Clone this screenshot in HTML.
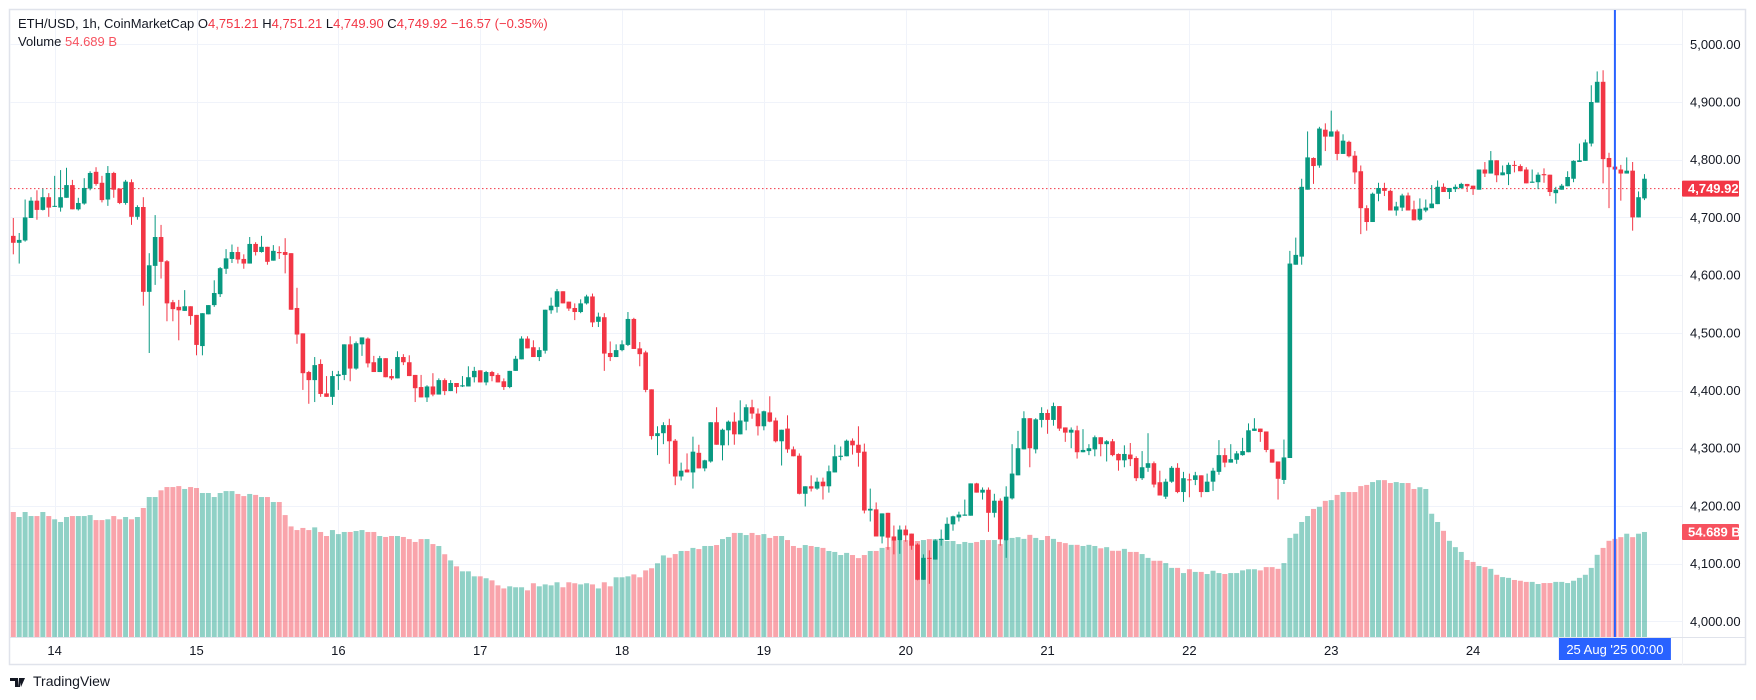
<!DOCTYPE html>
<html><head><meta charset="utf-8"><style>
html,body{margin:0;padding:0;background:#fff;width:1756px;height:700px;overflow:hidden;font-family:"Liberation Sans",sans-serif;}
#wrap{position:relative;width:1756px;height:700px;}
svg{position:absolute;left:0;top:0;}
</style></head><body>
<div id="wrap">
<svg id="chart" width="1756" height="700"></svg>
</div>
<script>
const openP=[4668,4656,4660,4699,4729,4713,4735,4719,4717,4734,4756,4714,4724,4750,4779,4760,4731,4777,4750,4725,4761,4701,4718,4571,4616,4666,4624,4553,4545,4538,4546,4531,4477,4532,4548,4567,4611,4628,4640,4628,4620,4654,4640,4649,4625,4640,4640,4638,4543,4499,4432,4418,4446,4395,4389,4425,4427,4480,4438,4480,4490,4449,4432,4456,4425,4421,4458,4449,4427,4406,4388,4407,4393,4418,4399,4413,4407,4407,4423,4435,4414,4432,4427,4416,4406,4434,4454,4490,4475,4458,4469,4539,4545,4572,4554,4543,4536,4551,4563,4519,4527,4465,4458,4470,4479,4524,4473,4466,4402,4321,4326,4340,4313,4251,4263,4258,4292,4265,4277,4345,4305,4331,4346,4324,4346,4371,4360,4338,4362,4348,4312,4334,4298,4287,4221,4234,4230,4242,4234,4258,4285,4286,4313,4306,4294,4192,4194,4147,4188,4147,4140,4159,4152,4133,4072,4110,4107,4141,4141,4168,4180,4183,4183,4239,4223,4228,4188,4209,4140,4213,4253,4298,4352,4298,4349,4361,4349,4373,4336,4327,4331,4293,4295,4298,4319,4307,4312,4290,4279,4289,4283,4248,4266,4274,4241,4216,4242,4266,4224,4246,4245,4253,4224,4242,4259,4288,4275,4280,4288,4293,4330,4334,4329,4298,4277,4245,4283,4618,4632,4748,4803,4790,4852,4840,4849,4810,4831,4807,4780,4716,4692,4741,4751,4746,4712,4717,4738,4714,4696,4712,4716,4723,4753,4744,4749,4751,4758,4755,4748,4783,4776,4799,4773,4775,4791,4789,4783,4760,4761,4775,4774,4742,4748,4754,4767,4796,4798,4828,4899,4935,4803,4788,4783,4776,4781,4700,4733];
const highP=[4699,4673,4731,4735,4747,4750,4742,4772,4782,4786,4765,4734,4768,4780,4787,4772,4789,4779,4750,4765,4766,4721,4735,4638,4704,4687,4626,4557,4557,4574,4546,4531,4534,4548,4591,4614,4645,4653,4649,4636,4666,4657,4668,4649,4652,4650,4664,4638,4578,4499,4434,4458,4454,4425,4434,4434,4480,4494,4485,4492,4492,4460,4460,4456,4437,4468,4463,4461,4427,4427,4409,4430,4421,4421,4418,4413,4425,4442,4441,4435,4434,4434,4430,4421,4434,4460,4494,4494,4487,4475,4540,4561,4576,4572,4554,4551,4558,4566,4568,4535,4534,4485,4480,4487,4536,4526,4484,4469,4402,4338,4345,4351,4316,4275,4291,4320,4306,4280,4345,4371,4334,4348,4362,4383,4376,4384,4369,4365,4390,4353,4332,4357,4303,4291,4234,4253,4249,4249,4270,4306,4303,4315,4317,4338,4308,4230,4206,4187,4188,4166,4166,4166,4152,4135,4116,4123,4142,4159,4180,4183,4190,4211,4239,4240,4232,4232,4221,4213,4234,4307,4330,4364,4352,4352,4371,4367,4379,4373,4336,4336,4339,4333,4307,4322,4319,4314,4316,4291,4305,4309,4286,4295,4326,4277,4261,4247,4269,4274,4259,4256,4259,4253,4256,4266,4314,4300,4307,4295,4318,4343,4352,4334,4329,4298,4277,4315,4642,4665,4767,4849,4804,4857,4863,4885,4852,4844,4833,4815,4790,4721,4743,4760,4760,4748,4727,4741,4743,4729,4733,4731,4756,4764,4759,4751,4757,4760,4758,4755,4783,4796,4815,4799,4790,4795,4798,4792,4787,4783,4778,4785,4774,4753,4758,4780,4799,4828,4835,4929,4953,4955,4812,4823,4791,4804,4796,4745,4775];
const lowP=[4636,4620,4658,4699,4696,4712,4701,4718,4710,4734,4714,4712,4722,4747,4755,4726,4720,4734,4723,4722,4687,4696,4547,4465,4583,4594,4520,4520,4487,4538,4514,4461,4461,4532,4545,4562,4602,4621,4620,4611,4620,4634,4639,4618,4625,4628,4603,4540,4481,4401,4377,4380,4389,4389,4375,4401,4418,4416,4436,4460,4440,4432,4432,4423,4418,4421,4444,4425,4380,4388,4380,4390,4393,4392,4399,4395,4406,4407,4414,4414,4409,4416,4414,4401,4404,4434,4454,4473,4458,4451,4464,4533,4535,4551,4538,4522,4534,4549,4510,4510,4434,4451,4458,4468,4477,4472,4442,4397,4315,4288,4307,4273,4236,4244,4258,4230,4265,4260,4275,4306,4279,4305,4306,4324,4331,4351,4322,4331,4345,4310,4270,4292,4286,4220,4199,4225,4228,4211,4223,4258,4279,4286,4289,4268,4187,4173,4147,4135,4124,4116,4117,4138,4124,4071,4072,4065,4107,4131,4141,4157,4173,4183,4183,4223,4211,4155,4180,4131,4110,4211,4253,4298,4267,4291,4336,4325,4339,4330,4311,4300,4282,4293,4288,4286,4286,4277,4286,4261,4267,4269,4243,4245,4259,4232,4218,4212,4240,4222,4207,4215,4236,4215,4224,4226,4254,4267,4275,4273,4287,4293,4330,4311,4293,4275,4211,4238,4283,4618,4618,4748,4758,4786,4815,4840,4799,4810,4804,4758,4671,4677,4692,4728,4737,4712,4703,4711,4712,4695,4694,4709,4716,4723,4744,4732,4744,4749,4744,4739,4748,4770,4776,4761,4773,4756,4778,4780,4759,4760,4749,4760,4737,4724,4748,4754,4761,4796,4798,4823,4899,4759,4716,4753,4729,4776,4677,4700,4730];
const closeP=[4656,4661,4700,4729,4713,4735,4717,4720,4735,4756,4714,4725,4751,4777,4758,4730,4777,4748,4725,4762,4701,4718,4571,4617,4666,4623,4551,4541,4539,4546,4529,4479,4534,4548,4569,4612,4629,4640,4627,4620,4654,4640,4649,4623,4642,4638,4635,4540,4497,4430,4418,4444,4394,4389,4425,4428,4480,4438,4482,4492,4447,4432,4456,4423,4421,4458,4449,4425,4404,4388,4407,4393,4418,4399,4413,4406,4409,4423,4434,4414,4432,4425,4414,4406,4434,4455,4490,4473,4458,4470,4540,4547,4572,4551,4542,4536,4551,4563,4518,4528,4464,4458,4470,4480,4524,4472,4463,4401,4321,4326,4340,4312,4251,4261,4258,4294,4265,4279,4345,4306,4332,4346,4324,4348,4371,4360,4338,4364,4346,4312,4332,4298,4286,4221,4234,4230,4242,4234,4260,4286,4287,4313,4305,4292,4192,4195,4147,4187,4145,4140,4159,4149,4131,4072,4110,4109,4140,4143,4169,4182,4185,4185,4239,4223,4228,4188,4209,4142,4216,4256,4300,4352,4300,4350,4361,4349,4373,4334,4327,4332,4293,4297,4300,4319,4307,4312,4288,4279,4290,4281,4248,4267,4274,4237,4218,4242,4266,4224,4248,4245,4253,4224,4242,4261,4288,4275,4281,4291,4295,4331,4334,4328,4297,4275,4247,4284,4620,4635,4753,4804,4789,4854,4840,4849,4810,4833,4806,4778,4716,4692,4741,4751,4746,4712,4719,4738,4712,4695,4715,4717,4724,4753,4744,4751,4753,4758,4754,4749,4783,4776,4799,4773,4778,4791,4790,4780,4759,4762,4774,4773,4744,4748,4755,4770,4798,4799,4830,4900,4935,4801,4787,4783,4776,4781,4700,4735,4767];
const volumeB=[65.1,62.5,65.1,63.0,63.0,65.1,63.0,61.3,59.9,62.5,63.0,63.0,63.0,63.5,60.9,60.9,61.3,63.0,61.3,62.5,61.3,62.5,67.2,72.9,72.9,76.4,78.1,78.1,78.6,77.1,78.1,77.6,75.0,75.0,72.9,75.0,76.0,76.0,74.5,73.4,74.5,74.0,72.9,72.9,70.3,70.3,63.5,57.6,55.7,56.8,55.7,57.1,54.7,52.6,55.7,53.6,54.7,
54.7,55.2,55.7,54.7,54.7,52.6,52.1,52.6,52.6,52.1,51.0,49.5,51.0,51.0,48.4,47.4,43.1,39.9,36.8,34.2,34.2,31.6,31.6,30.6,29.5,26.9,25.3,26.4,25.9,25.9,24.3,28.0,26.4,27.4,26.9,28.5,25.9,28.5,28.0,27.4,28.0,27.4,25.3,28.5,26.4,31.1,31.1,31.6,32.6,31.1,34.7,35.8,38.4,42.5,
41.3,43.2,44.8,44.8,46.4,45.8,47.4,47.4,47.9,51.0,52.1,54.2,54.2,53.1,54.2,53.1,53.6,51.6,52.6,52.6,50.5,47.4,46.4,47.9,47.4,46.9,46.4,44.8,44.3,42.7,43.8,42.7,41.1,42.7,44.8,44.8,46.4,46.9,50.5,50.0,50.5,50.0,50.0,50.5,51.0,51.0,51.0,50.0,50.0,48.4,49.5,49.0,49.5,50.5,50.5,50.5,48.4,50.1,
51.6,52.0,51.1,53.2,51.6,50.5,52.6,51.1,49.5,48.9,48.0,48.0,47.4,48.0,47.4,46.2,46.8,44.9,44.9,45.9,44.3,44.3,43.2,41.2,39.7,39.7,38.5,36.0,36.0,33.3,35.3,33.9,33.9,32.8,34.5,33.3,32.8,33.3,33.3,34.7,35.3,35.3,34.7,36.4,36.4,35.5,38.5,51.6,53.8,59.9,63.0,66.7,67.8,70.9,
71.3,74.0,75.5,75.5,75.5,78.6,79.2,80.7,81.7,81.7,80.2,80.7,80.2,80.2,77.1,78.0,77.1,64.2,59.9,55.3,50.1,46.8,44.3,40.1,39.1,37.0,36.4,35.5,32.4,31.2,30.8,29.7,29.3,28.7,28.7,27.6,28.1,28.1,28.7,28.7,28.1,29.3,30.8,32.4,36.0,42.8,46.4,50.1,51.1,52.0,53.8,52.0,53.8,54.7];
const priceTicks=[5000,4900,4800,4700,4600,4500,4400,4300,4200,4100,4000];
const dayLabels=["14","15","16","17","18","19","20","21","22","23","24"];
const firstDayIndex=7;
const lastPrice=4749.92;
const lastVolumeLabel="54.689 B";
const crosshairIndex=271;

const NS="http://www.w3.org/2000/svg";
const svg=document.getElementById('chart');
const PL=10,PR=1682,PT=10,PB=637;
const X0=13.3,DX=5.91;
function xs(i){return X0+i*DX;}
function ys(p){return 44.3+(5000-p)*0.577;}
function vh(v){return v*1.92;}
function el(tag,attrs,parent){const e=document.createElementNS(NS,tag);for(const k in attrs)e.setAttribute(k,attrs[k]);(parent||svg).appendChild(e);return e;}
const UP='#089981',DN='#f23645';

const frame=el('rect',{x:9.5,y:9.5,width:1736,height:655,fill:'#fff',stroke:'#e0e3eb','stroke-width':1.5});



const grid=el('g',{});


priceTicks.forEach(p=>{
  const y=Math.round(ys(p))+0.5;
  const l=el('line',{x1:PL,x2:PR,y1:y,y2:y,stroke:'#f0f3fa','stroke-width':1},grid);
  
  
});
dayLabels.forEach((d,k)=>{
  const x=Math.round(xs(firstDayIndex+24*k))+0.5;
  const l=el('line',{x1:x,x2:x,y1:PT,y2:PB,stroke:'#f0f3fa','stroke-width':1},grid);
  
  
});

const vg=el('g',{});


volumeB.forEach((v,i)=>{
  const up=closeP[i]>=openP[i];
  const h=vh(v);
  const r=el('rect',{x:xs(i)-2.5,y:PB-h,width:5,height:h,fill:up?'rgba(8,153,129,0.45)':'rgba(242,54,69,0.45)'},vg);
  
  
});

const ly=ys(lastPrice);
const pl=el('line',{x1:PL,x2:PR,y1:ly,y2:ly,stroke:DN,'stroke-width':1,'stroke-dasharray':'1.5 2.5'});



const cg=el('g',{});


openP.forEach((o,i)=>{
  const c=closeP[i],up=c>=o,col=up?UP:DN,x=xs(i);
  const g=el('g',{},cg);
  
  
  el('line',{x1:x,x2:x,y1:ys(highP[i]),y2:ys(lowP[i]),stroke:col,'stroke-width':1},g);
  const t=ys(Math.max(o,c)),b=ys(Math.min(o,c));
  el('rect',{x:x-2.3,y:t,width:4.6,height:Math.max(1,b-t),fill:col},g);
});

const cx=xs(crosshairIndex);
const ch=el('line',{x1:cx,x2:cx,y1:PT,y2:PB,stroke:'#2962ff','stroke-width':2});



const ax=el('line',{x1:PR+0.5,x2:PR+0.5,y1:PT,y2:665,stroke:'#eef0f5','stroke-width':1});


const tx=el('line',{x1:PL,x2:1746,y1:PB+0.5,y2:PB+0.5,stroke:'#e0e3eb','stroke-width':1});



priceTicks.forEach(p=>{
  const t=el('text',{x:1690,y:ys(p)+4.5,'font-size':'13','font-family':'Liberation Sans, sans-serif',fill:'#131722'});
  t.textContent=p.toLocaleString('en-US',{minimumFractionDigits:2});
  
  
});
dayLabels.forEach((d,k)=>{
  const t=el('text',{x:xs(firstDayIndex+24*k),y:655,'text-anchor':'middle','font-size':'13','font-family':'Liberation Sans, sans-serif',fill:'#131722'});
  t.textContent=d;
  
  
});

const lp=el('g',{});


el('rect',{x:1682,y:ly-8,width:57,height:16,fill:DN,rx:1},lp);
const lpt=el('text',{x:1688,y:ly+4.5,'font-size':'13','font-weight':'bold','font-family':'Liberation Sans, sans-serif',fill:'#fff'},lp);
lpt.textContent=lastPrice.toLocaleString('en-US',{minimumFractionDigits:2});
const vy=PB-vh(volumeB[volumeB.length-1]);
const vt=el('g',{});


el('rect',{x:1682,y:vy-8,width:57,height:16,fill:'#f7525f',rx:1},vt);
const vtt=el('text',{x:1688,y:vy+4.5,'font-size':'13','font-weight':'bold','font-family':'Liberation Sans, sans-serif',fill:'#fff'},vt);
vtt.textContent=lastVolumeLabel;

const tl=el('g',{});


el('rect',{x:cx-56,y:638,width:112,height:22,fill:'#2962ff'},tl);
const tlt=el('text',{x:cx,y:654,'text-anchor':'middle','font-size':'13','font-family':'Liberation Sans, sans-serif',fill:'#fff','xml:space':'preserve'},tl);
tlt.textContent="25 Aug '25   00:00";

function txt(x,y,s,fill,name){const t=el('text',{x:x,y:y,'font-size':'13','font-family':'Liberation Sans, sans-serif',fill:fill});t.textContent=s;return t;}
const hd=el('text',{x:18,y:28,'font-size':'13','font-family':'Liberation Sans, sans-serif',fill:'#131722','xml:space':'preserve'});


[["ETH/USD, 1h, CoinMarketCap  O",'#131722'],["4,751.21",DN],["  H",'#131722'],["4,751.21",DN],["  L",'#131722'],["4,749.90",DN],["  C",'#131722'],["4,749.92",DN],["  −16.57 (−0.35%)",DN]].forEach(([s,c])=>{const sp=el('tspan',{fill:c},hd);sp.textContent=s;});
txt(18,46,'Volume','#131722','volume-legend-title');
txt(65,46,'54.689 B','#f7525f','volume-legend-value');

const lg=el('g',{});


el('path',{d:'M10 678h8v9h-3v-6h-5z M19 678h3l-2 9h-2z M21 678h4l-4 9z',fill:'#131722'},lg);
const lgt=el('text',{x:33,y:686,'font-size':'14','font-family':'Liberation Sans, sans-serif',fill:'#131722'},lg);
lgt.textContent='TradingView';
</script>
</body></html>
